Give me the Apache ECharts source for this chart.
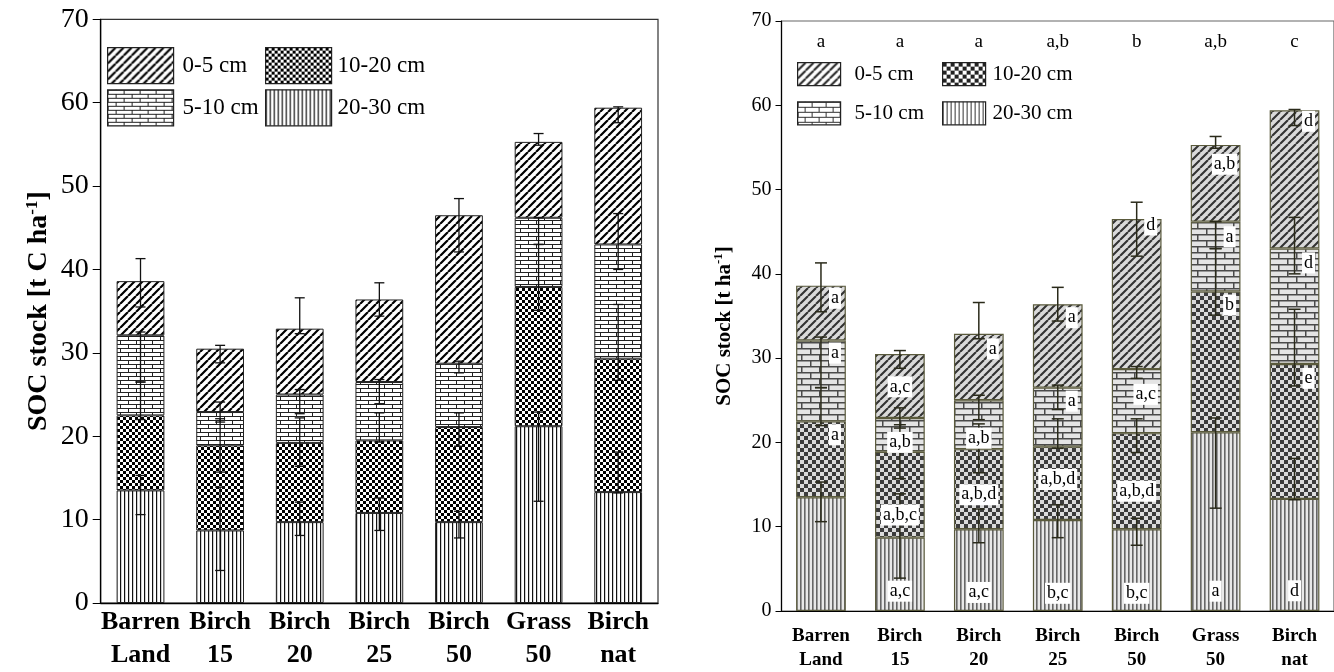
<!DOCTYPE html>
<html><head><meta charset="utf-8">
<script src="https://cdn.jsdelivr.net/npm/echarts@6/dist/echarts.min.js"></script>
<style>html,body{margin:0;padding:0;background:#fff}#c{width:1334px;height:672px}</style>
</head><body><div id="c"></div>
<script>
// ---------------- data ----------------
const categories = ['Barren\nLand','Birch\n15','Birch\n20','Birch\n25','Birch\n50','Grass\n50','Birch\nnat'];
const depthNames = ['0-5 cm','5-10 cm','10-20 cm','20-30 cm'];
// SOC stock per layer (t C ha-1), stacked bottom (20-30) to top (0-5)
const soc20_30 = [13.5, 8.7, 9.7, 10.8, 9.7, 21.2, 13.3];
const soc10_20 = [9.0, 10.2, 9.5, 8.7, 11.4, 16.7, 16.0];
const soc5_10  = [9.6, 4.0, 5.8, 7.0, 7.6, 8.3, 13.7];
const soc0_5   = [6.5, 7.6, 7.9, 9.9, 17.8, 9.1, 16.4];
// visible error bar intervals [low, high]
const err0_5   = [[35.5,41.3],[28.8,30.9],[32.3,36.6],[34.4,38.4],[42.1,48.5],[54.9,56.3],[57.6,59.5]];
const err5_10  = [[26.5,32.5],[21.7,24.1],[22.7,25.6],[23.9,26.8],[27.6,29.0],[43.0,46.2],[40.0,46.7]];
const err10_20 = [[22.0,26.5],[15.7,22.1],[16.4,22.2],[19.3,22.8],[18.8,22.8],[35.1,43.0],[26.7,35.8]];
const err20_30 = [[10.6,15.3],[3.9,13.9],[8.1,12.1],[8.7,12.6],[7.8,11.0],[12.2,22.9],[13.2,18.1]];
// significance letters (right panel): [text, anchor value, placement]
const topLetters = ['a','a','a','a,b','b','a,b','c'];
const topLetterLevel = 67.5;
const letters0_5   = [['a',37.1,'r'],['a,c',26.6,'c'],['a',31.1,'r'],['a',34.8,'r'],['d',45.8,'r'],['a,b',53.0,'m'],['d',58.1,'r']];
const letters5_10  = [['a',30.6,'r'],['a,b',20.0,'c'],['a,b',20.5,'c'],['a',24.9,'r'],['a,c',25.7,'m'],['a',44.4,'r'],['d',41.3,'r']];
const letters10_20 = [['a',20.9,'r'],['a,b,c',11.4,'c'],['a,b,d',13.8,'c'],['a,b,d',15.6,'c'],['a,b,d',14.2,'c'],['b',36.3,'r'],['e',27.6,'r']];
const letters20_30 = [null,['a,c',2.35,'c'],['a,c',2.2,'c'],['b,c',2.1,'c'],['b,c',2.1,'c'],['a',2.35,'c'],['d',2.4,'c']];
const yMin = 0, yMax = 70, yStep = 10;

// ---------------- patterns ----------------
const FF = '"Liberation Serif", "Times New Roman", serif';
function cv(w,h,bg){const c=document.createElement('canvas');c.width=w;c.height=h;const g=c.getContext('2d');g.fillStyle=bg;g.fillRect(0,0,w,h);return [c,g];}
function diag(p,lw,bg,fg){const [c,g]=cv(p,p,bg);g.strokeStyle=fg;g.lineWidth=lw;g.beginPath();
  for(const x0 of [-p,0,p]){g.moveTo(x0,p);g.lineTo(x0+p,0);}g.stroke();return {image:c,repeat:'repeat'};}
function brick(w,h,lw,bg,fg){const [c,g]=cv(w,2*h,bg);g.fillStyle=fg;
  g.fillRect(0,0,w,lw);g.fillRect(0,h,w,lw);g.fillRect(0,0,lw,h);g.fillRect(w/2,h,lw,h);return {image:c,repeat:'repeat'};}
function check(s,bg,fg){const [c,g]=cv(2*s,2*s,bg);g.fillStyle=fg;g.fillRect(0,0,s,s);g.fillRect(s,s,s,s);return {image:c,repeat:'repeat'};}
function vert(p,lw,bg,fg){const [c,g]=cv(p,p,bg);g.fillStyle=fg;g.fillRect(0,0,lw,p);return {image:c,repeat:'repeat'};}

const patL = [diag(8,2.2,'#fff','#000'), brick(16,4,1,'#fff','#222'), check(3,'#fff','#000'), vert(4,1.2,'#fff','#111')];
const patR = [diag(8,2.1,'#dadada','#333'), brick(18,6,1.5,'#e4e4e4','#4a4a4a'), check(4,'#dcdcdc','#3c3c3c'), vert(4,1.6,'#e8e8e8','#666')];
const patRL = [diag(8,2,'#fff','#222'), brick(14,5,1,'#fff','#333'), check(4,'#fff','#222'), vert(4,1,'#fff','#333')];

// ---------------- build ----------------
const layerData = [soc0_5, soc5_10, soc10_20, soc20_30];
const layerErr = [err0_5, err5_10, err10_20, err20_30];
const layerLetters = [letters0_5, letters5_10, letters10_20, letters20_30];
const stackOrder = [3,2,1,0]; // bottom first

function errRenderer(color, lw, half){
  return function(params, api){
    const x = api.value(0), lo = api.value(1), hi = api.value(2);
    const p1 = api.coord([x, lo]), p2 = api.coord([x, hi]);
    const st = {stroke: color, lineWidth: lw};
    return {type:'group', children:[
      {type:'line', shape:{x1:p1[0],y1:p1[1],x2:p2[0],y2:p2[1]}, style:st},
      {type:'line', shape:{x1:p1[0]-half,y1:p1[1],x2:p1[0]+half,y2:p1[1]}, style:st},
      {type:'line', shape:{x1:p2[0]-half,y1:p2[1],x2:p2[0]+half,y2:p2[1]}, style:st}
    ]};
  };
}

const series = [];
[0,1].forEach(panel => {
  const pats = panel === 0 ? patL : patR;
  stackOrder.forEach(k => {
    series.push({
      name: (panel === 0 ? '' : 'R ') + depthNames[k],
      type: 'bar', stack: 'p' + panel,
      xAxisIndex: panel, yAxisIndex: panel,
      barWidth: panel === 0 ? '60%' : '63%',
      itemStyle: {color: pats[k], borderColor: panel === 0 ? '#222' : '#5a5a3c', borderWidth: panel === 0 ? 1 : 1.2},
      emphasis: {disabled: true},
      data: layerData[k]
    });
  });
  const errItems = [];
  layerErr.forEach(arr => arr.forEach((e, i) => errItems.push([i, e[0], e[1]])));
  series.push({
    type: 'custom', xAxisIndex: panel, yAxisIndex: panel, z: 5,
    renderItem: panel === 0 ? errRenderer('#111', 1.3, 5) : errRenderer('#2a2a1a', 1.5, 6),
    encode: {x: 0, y: [1, 2]},
    data: errItems
  });
});

// letters (right panel)
const letterItems = [];
topLetters.forEach((t, i) => letterItems.push({i, v: topLetterLevel, t, side: 'c', top: true}));
layerLetters.forEach(arr => arr.forEach((l, i) => { if (l) letterItems.push({i, v: l[1], t: l[0], side: l[2], top: false}); }));
const sideShift = {c: 0, m: 9, r: 14};
series.push({
  type: 'custom', xAxisIndex: 1, yAxisIndex: 1, z: 6,
  encode: {x: 0, y: 1},
  data: letterItems.map(o => [o.i, o.v]),
  renderItem: function(params, api){
    const o = letterItems[params.dataIndex];
    const p = api.coord([api.value(0), api.value(1)]);
    const style = {text: o.t, x: p[0] + sideShift[o.side], y: p[1], align: 'center', verticalAlign: 'middle',
      font: (o.top ? '19px ' : '18px ') + FF, fill: '#000'};
    if (!o.top) { style.backgroundColor = '#fff'; style.padding = [2, 2, 1, 2]; }
    return {type: 'text', style};
  }
});

function yAxis(panel){
  const L = panel === 0;
  return {
    type: 'value', gridIndex: panel, min: yMin, max: yMax, interval: yStep,
    splitLine: {show: false},
    axisLine: {show: true, lineStyle: {color: '#000', width: L ? 1.3 : 1.2}},
    axisTick: {show: true, length: L ? 8 : 6, lineStyle: {color: '#000'}},
    axisLabel: {fontFamily: FF, fontSize: L ? 28 : 20, color: '#000', margin: L ? 12 : 10},
    name: L ? '{b|SOC stock [t C ha}{s|-1}{b|]}' : '{b|SOC stock [t ha}{s|-1}{b|]}',
    nameLocation: 'middle', nameGap: L ? 46 : 45,
    nameTextStyle: L ? {rich: {
        b: {fontFamily: FF, fontWeight: 'bold', fontSize: 28, lineHeight: 31, color: '#000'},
        s: {fontFamily: FF, fontWeight: 'bold', fontSize: 17, lineHeight: 17, verticalAlign: 'top', color: '#000'}
      }} : {padding: [0, 20, 0, 0], rich: {
        b: {fontFamily: FF, fontWeight: 'bold', fontSize: 21, lineHeight: 24, color: '#000'},
        s: {fontFamily: FF, fontWeight: 'bold', fontSize: 13, lineHeight: 13, verticalAlign: 'top', color: '#000'}
      }}
  };
}
function xAxis(panel){
  const L = panel === 0;
  return {
    type: 'category', gridIndex: panel, data: categories,
    axisLine: {show: true, lineStyle: {color: '#000', width: L ? 1.3 : 1.2}},
    axisTick: L ? {show: false} : {show: true, inside: true, alignWithLabel: true, length: 6, lineStyle: {color: '#000'}},
    axisLabel: {interval: 0, fontFamily: FF, fontWeight: 'bold', color: '#000',
      fontSize: L ? 26 : 19, lineHeight: L ? 33 : 24, margin: L ? 3 : 13}
  };
}
function legendCol(left, top, names, w, h, gap, fs, pad, right){
  return {
    left, top, orient: 'vertical', padding: 0, itemWidth: w, itemHeight: h, itemGap: gap,
    selectedMode: false, icon: 'rect',
    formatter: right ? (n => n.slice(2)) : (n => n),
    textStyle: {fontFamily: FF, fontSize: fs, color: '#000', padding: [0, 0, 0, pad]},
    data: names.map(k => ({
      name: (right ? 'R ' : '') + depthNames[k],
      itemStyle: {color: right ? patRL[k] : patL[k], borderColor: '#222', borderWidth: 1.2}
    }))
  };
}

const option = {
  animation: false,
  backgroundColor: '#fff',
  grid: [
    {left: 100.7, right: 676, top: 19.3, bottom: 64.3, show: true, borderColor: '#333', borderWidth: 1.2, backgroundColor: 'transparent'},
    {left: 781.5, right: -9.6, top: 21, bottom: 60.5, show: true, borderColor: '#666', borderWidth: 1.2, backgroundColor: 'transparent'}
  ],
  xAxis: [xAxis(0), xAxis(1)],
  yAxis: [yAxis(0), yAxis(1)],
  legend: [
    legendCol(107, 47, [0, 1], 66, 36, 5, 23, 4, false),
    legendCol(265, 47, [2, 3], 66, 36, 5, 23, 1, false),
    legendCol(797, 62, [0, 1], 43, 23, 15, 21, 9, true),
    legendCol(942, 62, [2, 3], 43, 23, 15, 21, 2, true)
  ],
  series
};
const chart = echarts.init(document.getElementById('c'), null, {renderer: 'canvas'});
chart.setOption(option);
</script></body></html>
